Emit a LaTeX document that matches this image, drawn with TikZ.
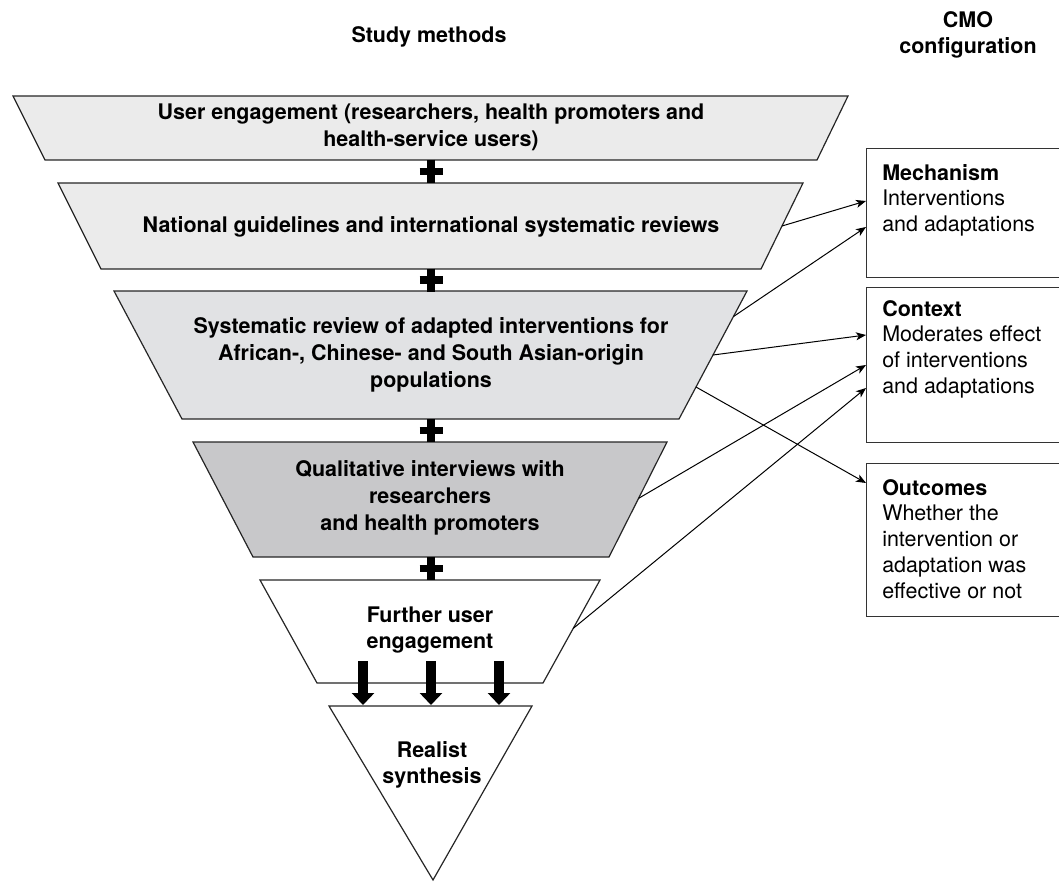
\documentclass[tikz,border=0pt]{standalone}
\usepackage{fontspec}
\setmainfont{TeX Gyre Heros}
\usetikzlibrary{arrows.meta,calc}
\definecolor{bandlight}{RGB}{235,235,235}
\definecolor{bandmid}{RGB}{225,226,228}
\definecolor{banddark}{RGB}{200,200,202}
\begin{document}
\begin{tikzpicture}[x=0.75pt,y=-0.75pt,
    band/.style={draw=black!85, line width=0.9pt},
    lbl/.style={align=center, inner sep=0pt, font=\bfseries\fontsize{16.1}{20}\selectfont},
    cmobox/.style={draw=black!80, line width=1.1pt, anchor=north west, minimum width=160pt, inner sep=0pt},
    cmotext/.style={align=left, anchor=north west, inner sep=0pt, font=\fontsize{16.1}{19.3}\selectfont},
    link/.style={-{Stealth[length=7.5pt,width=6pt,inset=2pt]}, line width=0.75pt},
    plus/.style={line width=5.5pt},
    down/.style={-{Triangle[width=16.5pt,length=9pt]}, line width=7.5pt}]
    \useasboundingbox (0,0) rectangle (1059,884);

    % headings
    \node[lbl] (methods) at (429,37) {Study methods};
    \node[lbl] (cmo) at (968,35) {CMO\\configuration};

    % funnel bands
    \coordinate (b1tl) at (13,96);   \coordinate (b1tr) at (848,96);
    \coordinate (b1br) at (817,160); \coordinate (b1bl) at (45,160);
    \filldraw[band, fill=bandlight] (b1tl) -- (b1tr) -- (b1br) -- (b1bl) -- cycle;
    \node[lbl] (user) at (431,127) {User engagement (researchers, health promoters and\\health-service users)};

    \coordinate (b2tl) at (58,183);  \coordinate (b2tr) at (803,183);
    \coordinate (b2br) at (761,269); \coordinate (b2bl) at (101,269);
    \filldraw[band, fill=bandlight] (b2tl) -- (b2tr) -- (b2br) -- (b2bl) -- cycle;
    \node[lbl] (guide) at (431,227) {National guidelines and international systematic reviews};

    \coordinate (b3tl) at (114,291); \coordinate (b3tr) at (747,291);
    \coordinate (b3br) at (679,419); \coordinate (b3bl) at (182,419);
    \filldraw[band, fill=bandmid] (b3tl) -- (b3tr) -- (b3br) -- (b3bl) -- cycle;
    \node[lbl] (review) at (431,355) {Systematic review of adapted interventions for\\African-, Chinese- and South Asian-origin\\populations};

    \coordinate (b4tl) at (193,442); \coordinate (b4tr) at (667,442);
    \coordinate (b4br) at (609,557); \coordinate (b4bl) at (253,557);
    \filldraw[band, fill=banddark] (b4tl) -- (b4tr) -- (b4br) -- (b4bl) -- cycle;
    \node[lbl] (interview) at (430,498) {Qualitative interviews with\\researchers\\and health promoters};

    \coordinate (b5tl) at (260,580); \coordinate (b5tr) at (600,580);
    \coordinate (b5br) at (543,683); \coordinate (b5bl) at (317,683);
    \filldraw[band, fill=white] (b5tl) -- (b5tr) -- (b5br) -- (b5bl) -- cycle;
    \node[lbl] (further) at (430,630) {Further user\\engagement};

    \coordinate (tl) at (329,706); \coordinate (tr) at (532,706); \coordinate (tb) at (433,880);
    \filldraw[band, fill=white] (tl) -- (tr) -- (tb) -- cycle;
    \node[lbl] (realist) at (432,765) {Realist\\synthesis};

    % plus signs between bands
    \foreach \y in {171.5,280,430.5,568.5} {
        \draw[plus] (431,\y-11.5) -- (431,\y+11.5);
        \draw[plus] (419.5,\y) -- (442.5,\y);
    }

    % arrows into the synthesis
    \foreach \x in {363,431,499}
        \draw[down] (\x,661) -- (\x,705);

    % CMO boxes
    \node[cmobox, minimum height=96.75pt] (mech) at (866,148) {};
    \node[cmotext] (mechtxt) at (882,164) {\textbf{Mechanism}\\Interventions\\and adaptations};
    \node[cmobox, minimum height=116.25pt] (ctx) at (866,287) {};
    \node[cmotext] (ctxtxt) at (882,300) {\textbf{Context}\\Moderates effect\\of interventions\\and adaptations};
    \node[cmobox, minimum height=114.75pt] (outc) at (866,463) {};
    \node[cmotext] (outctxt) at (882,479) {\textbf{Outcomes}\\Whether the\\intervention or\\adaptation was\\effective or not};

    % connectors
    \coordinate (m1) at ($(mech.north west)+(0,53)$);
    \coordinate (m2) at ($(mech.north west)+(0,79)$);
    \coordinate (c1) at ($(ctx.north west)+(0,48)$);
    \coordinate (c2) at ($(ctx.north west)+(0,78)$);
    \coordinate (c3) at ($(ctx.north west)+(0,101)$);
    \coordinate (o1) at ($(outc.north west)+(0,20)$);
    \draw[link] ($(b2tr)!0.5!(b2br)$) -- (m1);
    \draw[link] ($(b3tr)!0.2!(b3br)$) -- (m2);
    \draw[link] ($(b3tr)!0.5!(b3br)$) -- (c1);
    \draw[link] ($(b3tr)!0.75!(b3br)$) -- (o1);
    \draw[link] ($(b4tr)!0.49!(b4br)$) -- (c2);
    \draw[link] ($(b5tr)!0.47!(b5br)$) -- (c3);
\end{tikzpicture}
\end{document}
